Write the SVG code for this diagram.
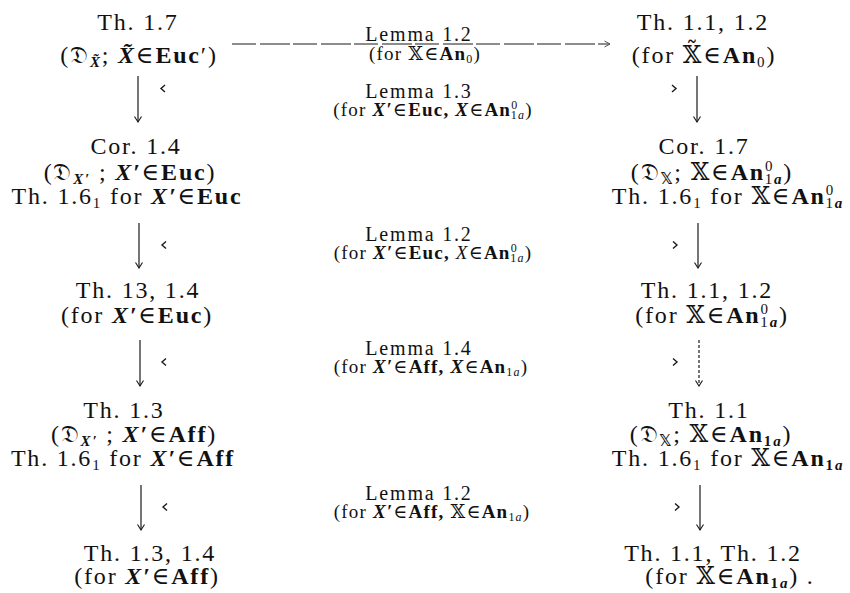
<svg xmlns="http://www.w3.org/2000/svg" width="850" height="593" viewBox="0 0 850 593">
<style>
text { font-family: "Liberation Serif", "DejaVu Serif", "DejaVu Sans", serif; fill: #111; text-anchor: middle; }
.n { font-size: 24px; letter-spacing: 1.8px; }
.m { font-size: 20px; letter-spacing: 1.8px; }
.s { font-size: 19px; letter-spacing: 1.2px; }
.b { font-weight: bold; }
.bi { font-weight: bold; font-style: italic; }
.i { font-style: italic; }
.sub { font-size: 15px; }
.ssub { font-size: 12px; }
.arr { fill: none; stroke: #1a1a1a; stroke-width: 1.2; }
.chev { fill: none; stroke: #1a1a1a; stroke-width: 1.4; }
</style>
<defs>
<marker id="ah" viewBox="-7 -5 8 10" refX="0" refY="0" markerWidth="8" markerHeight="10" markerUnits="userSpaceOnUse" orient="auto">
<path d="M-5.5,-3.5 L0,0 L-5.5,3.5" fill="none" stroke="#1a1a1a" stroke-width="1.1"/>
</marker>
<marker id="ahg" viewBox="-7 -5 8 10" refX="0" refY="0" markerWidth="8" markerHeight="10" markerUnits="userSpaceOnUse" orient="auto">
<path d="M-5.5,-3 L0,0 L-5.5,3" fill="none" stroke="#555" stroke-width="1"/>
</marker>
</defs>
<rect width="850" height="593" fill="#fff"/>

<g id="connectors">
<line class="arr" x1="232" y1="44" x2="610" y2="44" stroke="#777" stroke-width="1" stroke-dasharray="24 4 30 3" marker-end="url(#ahg)"/>
<line class="arr" x1="138" y1="76" x2="138" y2="122" marker-end="url(#ah)"/>
<line class="arr" x1="139" y1="223" x2="139" y2="268" marker-end="url(#ah)"/>
<line class="arr" x1="140" y1="340" x2="140" y2="386" marker-end="url(#ah)"/>
<line class="arr" x1="141" y1="485" x2="141" y2="530" marker-end="url(#ah)"/>
<line class="arr" x1="697" y1="76" x2="697" y2="122" marker-end="url(#ah)"/>
<line class="arr" x1="698" y1="223" x2="698" y2="268" marker-end="url(#ah)"/>
<line class="arr" x1="699" y1="340" x2="699" y2="386" stroke-dasharray="3 2" marker-end="url(#ah)"/>
<line class="arr" x1="700" y1="485" x2="700" y2="530" marker-end="url(#ah)"/>
<path class="chev" d="M165,85 L161,88.5 L165,92"/>
<path class="chev" d="M166,241.5 L162,245 L166,248.5"/>
<path class="chev" d="M166,358.5 L162,362 L166,365.5"/>
<path class="chev" d="M167,503.5 L163,507 L167,510.5"/>
<path class="chev" d="M672,85 L676,88.5 L672,92"/>
<path class="chev" d="M673,241.5 L677,245 L673,248.5"/>
<path class="chev" d="M673,358.5 L677,362 L673,365.5"/>
<path class="chev" d="M675,503.5 L679,507 L675,510.5"/>
</g>

<g id="node-th17">
<text class="n" x="138" y="30">Th. 1.7</text>
<text class="n" x="139" y="63">(𝔇<tspan class="sub bi" dy="4">X̃</tspan><tspan dy="-4">; </tspan><tspan class="bi">X̃</tspan>∈<tspan class="b">Euc</tspan>′)</text>
</g>

<g id="node-cor14">
<text class="n" x="136" y="154">Cor. 1.4</text>
<text class="n" x="130" y="180">(𝔇<tspan class="sub bi" dy="4">X′</tspan><tspan dy="-4"> ; </tspan><tspan class="bi">X′</tspan>∈<tspan class="b">Euc</tspan>)</text>
<text class="n" x="127" y="204">Th. 1.6<tspan class="sub" dy="4">1</tspan><tspan dy="-4"> for </tspan><tspan class="bi">X′</tspan>∈<tspan class="b">Euc</tspan></text>
</g>

<g id="node-th1314">
<text class="n" x="138" y="298">Th. 13, 1.4</text>
<text class="n" x="137" y="323">(for <tspan class="bi">X′</tspan>∈<tspan class="b">Euc</tspan>)</text>
</g>

<g id="node-th13">
<text class="n" x="124" y="418">Th. 1.3</text>
<text class="n" x="134" y="442">(𝔇<tspan class="sub bi" dy="4">X′</tspan><tspan dy="-4"> ; </tspan><tspan class="bi">X′</tspan>∈<tspan class="b">Aff</tspan>)</text>
<text class="n" x="123" y="466">Th. 1.6<tspan class="sub" dy="4">1</tspan><tspan dy="-4"> for </tspan><tspan class="bi">X′</tspan>∈<tspan class="b">Aff</tspan></text>
</g>

<g id="node-th13-14">
<text class="n" x="150" y="561">Th. 1.3, 1.4</text>
<text class="n" x="147" y="584">(for <tspan class="bi">X′</tspan>∈<tspan class="b">Aff</tspan>)</text>
</g>

<g id="node-th11-12a">
<text class="n" x="703" y="30">Th. 1.1, 1.2</text>
<text class="n" x="704" y="63">(for 𝕏̃∈<tspan class="b">An</tspan><tspan class="sub" dy="4">0</tspan><tspan dy="-4">)</tspan></text>
</g>

<g id="node-cor17">
<text class="n" x="704" y="154">Cor. 1.7</text>
<text class="n" x="712" y="180">(𝔇<tspan class="sub b" dy="4">𝕏</tspan><tspan dy="-4">; </tspan>𝕏∈<tspan class="b">An</tspan><tspan class="sub" dy="-9">0</tspan><tspan class="sub" dx="-9.5" dy="13">1<tspan class="i b">a</tspan></tspan><tspan dy="-4">)</tspan></text>
<text class="n" x="728" y="204">Th. 1.6<tspan class="sub" dy="4">1</tspan><tspan dy="-4"> for </tspan>𝕏∈<tspan class="b">An</tspan><tspan class="sub" dy="-9">0</tspan><tspan class="sub" dx="-9.5" dy="13">1<tspan class="i b">a</tspan></tspan></text>
</g>

<g id="node-th11-12b">
<text class="n" x="707" y="298">Th. 1.1, 1.2</text>
<text class="n" x="712" y="323">(for 𝕏∈<tspan class="b">An</tspan><tspan class="sub" dy="-9">0</tspan><tspan class="sub" dx="-9.5" dy="13">1<tspan class="i b">a</tspan></tspan><tspan dy="-4">)</tspan></text>
</g>

<g id="node-th11">
<text class="n" x="709" y="418">Th. 1.1</text>
<text class="n" x="711" y="442">(𝔇<tspan class="sub b" dy="4">𝕏</tspan><tspan dy="-4">; </tspan>𝕏∈<tspan class="b">An</tspan><tspan class="sub b" dy="4">1<tspan class="i">a</tspan></tspan><tspan dy="-4">)</tspan></text>
<text class="n" x="728" y="466">Th. 1.6<tspan class="sub" dy="4">1</tspan><tspan dy="-4"> for </tspan>𝕏∈<tspan class="b">An</tspan><tspan class="sub b" dy="4">1<tspan class="i">a</tspan></tspan></text>
</g>

<g id="node-th11-th12">
<text class="n" x="713" y="561">Th. 1.1, Th. 1.2</text>
<text class="n" x="730" y="584">(for 𝕏∈<tspan class="b">An</tspan><tspan class="sub b" dy="4">1<tspan class="i">a</tspan></tspan><tspan dy="-4">)  .</tspan></text>
</g>

<g id="label-l1">
<text class="m" x="419" y="41">Lemma 1.2</text>
<text class="s" x="425" y="60">(for 𝕏∈<tspan class="b">An</tspan><tspan class="ssub" dy="3">0</tspan><tspan dy="-3">)</tspan></text>
</g>
<g id="label-l2">
<text class="m" x="419" y="98">Lemma 1.3</text>
<text class="s" x="433" y="116">(for <tspan class="bi">X′</tspan>∈<tspan class="b">Euc,</tspan> <tspan class="bi">X</tspan>∈<tspan class="b">An</tspan><tspan class="ssub" dy="-7">0</tspan><tspan class="ssub" dx="-7.5" dy="10">1<tspan class="i">a</tspan></tspan><tspan dy="-3">)</tspan></text>
</g>
<g id="label-l3">
<text class="m" x="419" y="241">Lemma 1.2</text>
<text class="s" x="433" y="259">(for <tspan class="bi">X′</tspan>∈<tspan class="b">Euc,</tspan> <tspan class="i">X</tspan>∈<tspan class="b">An</tspan><tspan class="ssub" dy="-7">0</tspan><tspan class="ssub" dx="-7.5" dy="10">1<tspan class="i">a</tspan></tspan><tspan dy="-3">)</tspan></text>
</g>
<g id="label-l4">
<text class="m" x="419" y="355">Lemma 1.4</text>
<text class="s" x="431" y="373">(for <tspan class="bi">X′</tspan>∈<tspan class="b">Aff,</tspan> <tspan class="bi">X</tspan>∈<tspan class="b">An</tspan><tspan class="ssub" dy="3">1<tspan class="i">a</tspan></tspan><tspan dy="-3">)</tspan></text>
</g>
<g id="label-l5">
<text class="m" x="419" y="500">Lemma 1.2</text>
<text class="s" x="432" y="518">(for <tspan class="bi">X′</tspan>∈<tspan class="b">Aff,</tspan> 𝕏∈<tspan class="b">An</tspan><tspan class="ssub" dy="3">1<tspan class="i">a</tspan></tspan><tspan dy="-3">)</tspan></text>
</g>
</svg>
